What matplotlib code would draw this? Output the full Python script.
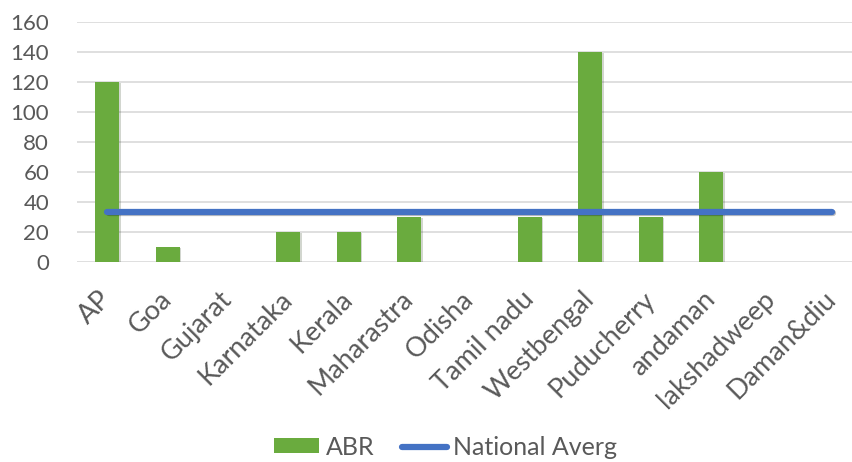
import matplotlib
matplotlib.use("Agg")
import matplotlib.pyplot as plt
import matplotlib.patheffects as pe
from matplotlib.lines import Line2D
from matplotlib.patches import Patch

plt.rcParams['font.family'] = ['Lato', 'DejaVu Sans']

states = ['AP', 'Goa', 'Gujarat', 'Karnataka', 'Kerala', 'Maharastra', 'Odisha',
          'Tamil nadu', 'Westbengal', 'Puducherry', 'andaman', 'lakshadweep', 'Daman&diu']
abr = [120, 10, 0, 20, 20, 30, 0, 30, 140, 30, 60, 0, 0]
national_avg = [33.3] * len(states)

green = '#6aab3e'
blue = '#4472c4'
txt = '#595959'

fig = plt.figure(figsize=(8.52, 4.62), dpi=100)
ax = fig.add_axes([77 / 852, 1 - 262 / 462, 785 / 852, 240 / 462])

x = list(range(len(states)))
shadow = [pe.SimplePatchShadow(offset=(1, -1), alpha=0.2), pe.Normal()]
bars = ax.bar(x, abr, width=0.4, color=green, zorder=3)
for b in bars:
    b.set_path_effects(shadow)

ax.plot(x, national_avg, color=blue, linewidth=4.5, solid_capstyle='round', zorder=4,
        path_effects=[pe.SimpleLineShadow(offset=(1, -1), alpha=0.25), pe.Normal()])

ax.set_xlim(-0.5, len(states) - 0.5)
ax.set_ylim(0, 160)
ax.set_yticks(range(0, 161, 20))
ax.grid(axis='y', color='#d9d9d9', linewidth=1.2, zorder=0)
ax.set_axisbelow(True)
for s in ax.spines.values():
    s.set_visible(False)
ax.tick_params(axis='both', length=0, colors=txt)
ax.tick_params(axis='y', pad=20, labelsize=16)
ax.set_xticks(x)
ax.set_xticklabels(states, rotation=45, ha='right', va='center', rotation_mode='anchor')
ax.tick_params(axis='x', pad=24, labelsize=19.5)

handles = [Patch(facecolor=green, edgecolor='none'),
           Line2D([0], [0], color=blue, linewidth=4.5, solid_capstyle='round')]
fig.legend(handles, ['ABR', 'National Averg'], loc='center', bbox_to_anchor=(0.523, 0.032),
           ncol=2, frameon=False, fontsize=18, labelcolor=txt, handlelength=1.8,
           handleheight=0.55, handletextpad=0.25, columnspacing=1.1)

fig.savefig('out.png', dpi=100, facecolor='white')
